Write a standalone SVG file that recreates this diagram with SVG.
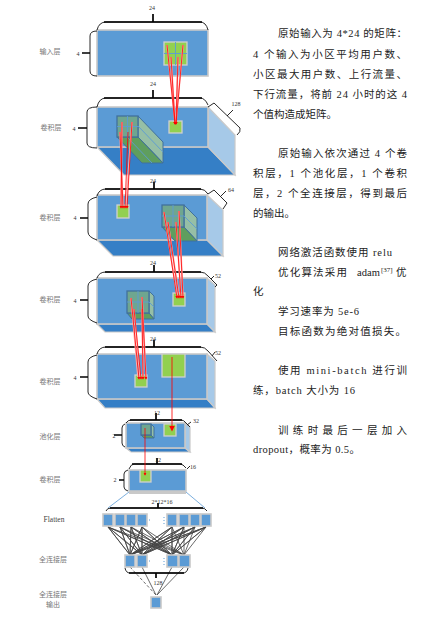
<svg xmlns="http://www.w3.org/2000/svg" width="448" height="619" viewBox="0 0 448 619">
<style>
text{font-family:"Liberation Serif","Noto Sans CJK SC",serif}
.lb{font-size:7px;fill:#777;text-anchor:middle}
.n{font-size:6px;fill:#333;text-anchor:middle}
.t{font-size:10.5px;fill:#222}
.f{fill:#5b9bd5;stroke:#c9c9c9;stroke-width:1.6}
.fl{fill:#357fc6;stroke:#c9c9c9;stroke-width:1.2}
.sd{fill:#a6c9e8;stroke:#c9c9c9;stroke-width:1.2}
.g{fill:#92d050;stroke:#d0d0d0;stroke-width:1.3}
.bf{fill:#6fa68f;stroke:#41719c;stroke-width:1.3}
.bs{fill:#96bfa6;stroke:#41719c;stroke-width:1}
.bb{fill:#5f9e5e;stroke:#41719c;stroke-width:1}
.gl{stroke:#5b9bd5;stroke-width:.9;fill:none}
.b{fill:none;stroke:#111;stroke-width:.9}
.bt{fill:none;stroke:#000;stroke-width:1.7}
.r{stroke:#f00;stroke-width:.8;fill:none;marker-end:url(#a)}
.rh{stroke:#ffb0b0;stroke-width:1.600;fill:none}
.c{stroke:#444;stroke-width:.8;fill:none}
.cell{fill:#5b9bd5;stroke:#c9c9c9;stroke-width:1.6}
.dot{stroke:#5b9bd5;stroke-width:1;stroke-dasharray:1 2;fill:none}
</style>
<defs><marker id="a" markerWidth="4" markerHeight="4" refX="3" refY="2" orient="auto"><path d="M0 0L4 2L0 4Z" fill="#f00"/></marker></defs>

<g id="layer1">
<rect class="f" x="97" y="30" width="111" height="46"/>
<rect class="g" x="164" y="42" width="23" height="23"/>
<path class="gl" d="M175.500 42V65M164 53.500H187"/>
<path class="b" d="M97 30Q99 22 106 22H200Q206 22 208 30M97 31Q90 31 90 36V71Q90 76 97 76"/>
<path class="bt" d="M104 22H202M153 14V22M82 53H90"/>
<text class="n" x="152" y="10">24</text><text class="n" x="78" y="56">4</text>
<text class="lb" x="50" y="54">输入层</text>
</g>

<g id="layer2">
<path class="fl" d="M97 147H208L235 175H124Z"/>
<path class="sd" d="M208 107L235 135V175L208 147Z"/>
<rect class="f" x="97" y="107" width="111" height="40"/>
<path class="bs" d="M138 116L163 142V163L138 137Z"/>
<path class="bb" d="M117 137H138L163 163H142Z"/>
<rect class="bf" x="117" y="116" width="21" height="21"/>
<path class="gl" d="M127.500 116V137M117 126.500H138M138 126L163 152M127 137L152 163"/>
<rect class="g" x="169" y="121" width="13" height="12"/>
<path class="b" d="M97 107Q99 98 106 98H200Q205 98 208 105M208 107L214 103L240 128Q241 132 237 135M97 107Q87 107 87 112V143Q87 148 97 148"/>
<path class="bt" d="M104 98H202M153 90V98M78 128H87"/>
<path class="b" d="M227 116L233 110" stroke-width="1.400"/>
<text class="n" x="153" y="86">24</text><text class="n" x="74" y="131">4</text><text class="n" x="236" y="106">128</text>
<text class="lb" x="51" y="130">卷积层</text>
</g>

<g id="layer3">
<path class="fl" d="M97 240H207L223 256H113Z"/>
<path class="sd" d="M207 195L223 210V256L207 240Z"/>
<rect class="f" x="97" y="195" width="110" height="45"/>
<path class="bs" d="M184 205L197 218V241L184 227Z"/>
<path class="bb" d="M162 227H184L197 241H175Z"/>
<rect class="bf" x="162" y="205" width="22" height="22"/>
<path class="gl" d="M173 205V227M162 216H184M184 216L197 229"/>
<rect class="g" x="117" y="205" width="12" height="13"/>
<path class="b" d="M97 196Q99 189 106 189H200Q205 189 208 194L214 190L227 203L223 209M97 197Q88 199 88 204V232Q88 237 97 240"/>
<path class="bt" d="M105 189H201M154 182V189M80 218H88"/>
<path class="b" d="M221 196L226 191"/>
<text class="n" x="153" y="183">24</text><text class="n" x="75" y="220">4</text><text class="n" x="231" y="192">64</text>
<text class="lb" x="50" y="220">卷积层</text>
</g>

<g id="layer4">
<path class="fl" d="M97 324H207L215 332H105Z"/>
<path class="sd" d="M207 278L215 285V332L207 324Z"/>
<rect class="f" x="97" y="278" width="110" height="46"/>
<path class="bs" d="M149 291L154 296V319L149 313Z"/>
<path class="bb" d="M127 313H149L154 319H132Z"/>
<rect class="bf" x="127" y="291" width="22" height="22"/>
<path class="gl" d="M138 291V313M127 302H149M149 302L154 307"/>
<rect class="g" x="173" y="293" width="12" height="13"/>
<path class="b" d="M97 278Q99 272 106 272H200Q205 272 208 276L217 285L215 287M97 279Q88 281 88 286V316Q88 320 97 323"/>
<path class="bt" d="M105 272H201M154 265V272M80 300H88"/>
<path class="b" d="M211 279L214 276"/>
<text class="n" x="153" y="265">24</text><text class="n" x="75" y="303">4</text><text class="n" x="218" y="278">52</text>
<text class="lb" x="50" y="302">卷积层</text>
</g>

<g id="layer5">
<path class="fl" d="M97 399H207L215 408H105Z"/>
<path class="sd" d="M207 354L215 361V408L207 399Z"/>
<rect class="f" x="97" y="354" width="110" height="45"/>
<rect class="g" x="162" y="354" width="23" height="23"/>
<rect class="g" x="135" y="375" width="12" height="12"/>
<path class="b" d="M97 354Q99 347 106 347H200Q205 347 208 351L217 361M97 355Q88 357 88 362V392Q88 396 97 399"/>
<path class="bt" d="M105 347H201M154 340V347M80 377H88"/>
<path class="b" d="M212 356L215 352"/>
<text class="n" x="153" y="341">24</text><text class="n" x="75" y="380">4</text><text class="n" x="218" y="355">52</text>
<text class="lb" x="50" y="384">卷积层</text>
</g>

<g id="pool">
<path class="fl" d="M126 448H185L190 452H131Z"/>
<path class="sd" d="M185 423L190 427V452L185 448Z"/>
<rect class="f" x="126" y="423" width="59" height="25"/>
<path class="bb" d="M141 435H151L154 438H144Z"/>
<path class="bs" d="M151 424L154 427V438L151 435Z"/>
<rect class="bf" x="141" y="424" width="10" height="11"/>
<rect class="g" x="164" y="424" width="12" height="12"/>
<path class="b" d="M126 423Q128 420 131 420H181Q184 420 186 423L190 427M125 424Q122 425 122 428V443Q122 446 125 447"/>
<path class="bt" d="M130 420H182M156 413V420M114 435H122"/>
<path class="b" d="M187 425L191 422"/>
<text class="n" x="157" y="415">12</text><text class="n" x="114" y="438">2</text><text class="n" x="196" y="423">32</text>
<text class="lb" x="50" y="439">池化层</text>
</g>

<g id="layer7">
<rect x="129" y="490" width="57" height="4" fill="#c9c9c9"/>
<rect class="f" x="129" y="470" width="57" height="21"/>
<rect class="g" x="140" y="470" width="11" height="12"/>
<path class="b" d="M129 469Q131 464 134 464H180Q183 464 186 468M128 470Q124 471 124 474V487Q124 490 128 491"/>
<path class="bt" d="M132 464H182M157 458V464M119 480H124"/>
<path class="b" d="M187 469L190 466"/>
<text class="n" x="158" y="462">12</text><text class="n" x="115" y="482">2</text><text class="n" x="193" y="469">16</text>
<text class="lb" x="50" y="482">卷积层</text>
</g>

<g id="connectors">
<path class="rh" d="M167 45L175 122M171 57L175 122M178 57L176 122M183 45L176 122M122 122L121 205M120 132L123 205M132 122L126 205M164 212L177 296M168 222L179 296M176 222L181 296M179 211L183 296M131 298L138 377M134 309L140 377M142 309L143 377M142 297L146 377"/>
<path class="r" d="M167 45L175 124"/><path class="r" d="M171 57L175 124"/><path class="r" d="M178 57L176 124"/><path class="r" d="M183 45L176 124"/>
<path class="r" d="M122 122L121 208"/><path class="r" d="M120 132L123 208"/><path class="r" d="M128 132L125 208"/><path class="r" d="M132 122L127 208"/>
<path class="r" d="M164 212L177 298"/><path class="r" d="M168 222L179 298"/><path class="r" d="M176 222L181 298"/><path class="r" d="M179 211L183 298"/>
<path class="r" d="M131 298L139 379"/><path class="r" d="M134 309L141 379"/><path class="r" d="M142 309L143 379"/><path class="r" d="M142 297L146 379"/>
<path d="M172 357V430" stroke="#f00" stroke-opacity=".55" stroke-width="1.500" marker-end="url(#a)"/>
<path class="r" d="M145 428V475"/>
<path d="M129 492L108 508M186 492L205 508" stroke="#5b9bd5" stroke-width=".8" fill="none"/>
<path class="c" d="M108 527L130 555L108 527L142 555L108 527L172 555L108 527L184 555M120 527L130 555L120 527L142 555L120 527L172 555L120 527L184 555M131 527L130 555L131 527L142 555L131 527L172 555L131 527L184 555M142 527L130 555L142 527L142 555L142 527L172 555L142 527L184 555M172 527L130 555L172 527L142 555L172 527L172 555L172 527L184 555M184 527L130 555L184 527L142 555L184 527L172 555L184 527L184 555M195 527L130 555L195 527L142 555L195 527L172 555L195 527L184 555M206 527L130 555L206 527L142 555L206 527L172 555L206 527L184 555"/>
<path class="c" d="M130 567L156 595" stroke-dasharray="3 2"/>
<path class="c" d="M142 567L156 595M172 567L157 595M184 567L157 595"/>
</g>

<g id="flatten">
<rect class="cell" x="103" y="514" width="10" height="12"/><rect class="cell" x="115" y="514" width="10" height="12"/><rect class="cell" x="126" y="514" width="10" height="12"/><rect class="cell" x="137" y="514" width="10" height="12"/>
<rect class="cell" x="167" y="514" width="10" height="12"/><rect class="cell" x="179" y="514" width="10" height="12"/><rect class="cell" x="190" y="514" width="10" height="12"/><rect class="cell" x="201" y="514" width="10" height="12"/>
<path class="dot" d="M149 520H152M164 517V524"/>
<path class="b" d="M106 511Q107 508 111 508H202Q205 508 207 511"/>
<path class="bt" d="M110 508H203M158 503V508"/>
<text class="n" x="162" y="504">2*12*16</text>
<text class="lb" x="54" y="522" style="fill:#444;font-size:7.500px">Flatten</text>
</g>

<g id="dense">
<rect class="cell" x="125" y="555" width="10" height="12"/><rect class="cell" x="137" y="555" width="10" height="12"/>
<rect class="cell" x="167" y="555" width="11" height="12"/><rect class="cell" x="179" y="555" width="11" height="12"/>
<path class="dot" d="M149 561H152M164 558V565"/>
<path class="b" d="M125 568Q126 573 130 573H183Q187 573 188 568"/>
<path class="bt" d="M129 573H184M156 573V578"/>
<text class="n" x="158" y="585">128</text>
<text class="lb" x="53" y="562">全连接层</text>
</g>

<g id="output">
<rect class="cell" x="151" y="597" width="10" height="11"/>
<text class="lb" x="53" y="597">全连接层</text>
<text class="lb" x="53" y="607">输出</text>
</g>

<g id="text">
<text class="t" x="278" y="37" textLength="129">原始输入为 4*24 的矩阵：</text>
<text class="t" x="253" y="58" textLength="154">4 个输入为小区平均用户数、</text>
<text class="t" x="253" y="78" textLength="154">小区最大用户数、上行流量、</text>
<text class="t" x="253" y="98" textLength="154">下行流量，将前 24 小时的这 4</text>
<text class="t" x="253" y="118" textLength="84">个值构造成矩阵。</text>
<text class="t" x="278" y="157" textLength="129">原始输入依次通过 4 个卷</text>
<text class="t" x="253" y="177" textLength="154">积层，1 个池化层，1 个卷积</text>
<text class="t" x="253" y="197" textLength="154">层，2 个全连接层，得到最后</text>
<text class="t" x="253" y="217" textLength="42">的输出。</text>
<text class="t" x="278" y="256" textLength="114">网络激活函数使用 relu</text>
<text class="t" x="278" y="276" textLength="69">优化算法采用</text>
<text class="t" x="357" y="276" textLength="23">adam</text>
<text class="t" x="381" y="272" style="font-size:7px">[37]</text>
<text class="t" x="396" y="276">优</text>
<text class="t" x="253" y="295">化</text>
<text class="t" x="278" y="315" textLength="81">学习速率为 5e-6</text>
<text class="t" x="278" y="335" textLength="128">目标函数为绝对值损失。</text>
<text class="t" x="278" y="374" textLength="129">使用 mini-batch 进行训</text>
<text class="t" x="253" y="394" textLength="102">练，batch 大小为 16</text>
<text class="t" x="278" y="434" textLength="129">训练时最后一层加入</text>
<text class="t" x="253" y="453" textLength="107">dropout，概率为 0.5。</text>
</g>
</svg>
